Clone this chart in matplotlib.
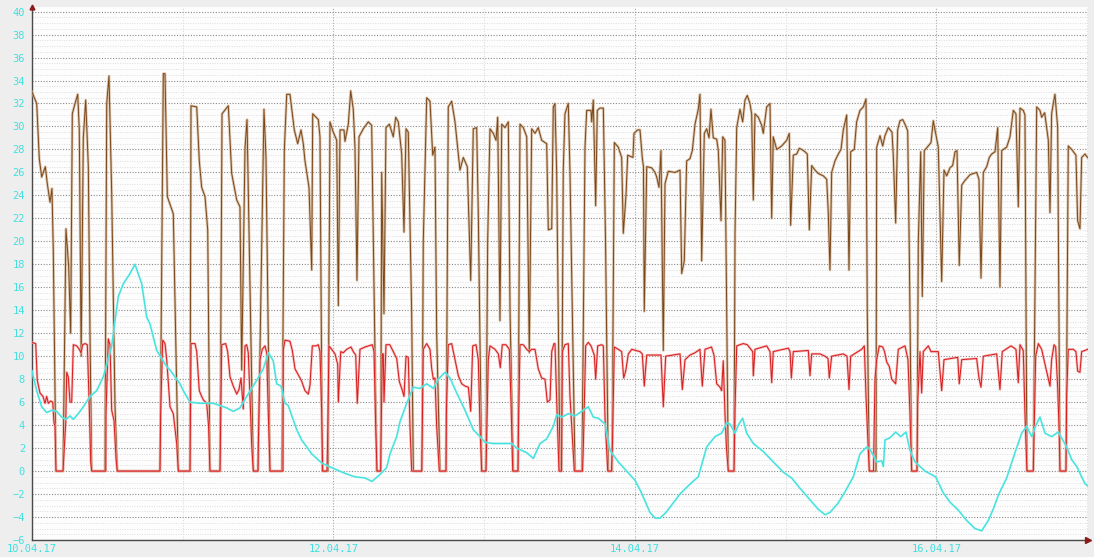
import matplotlib
matplotlib.use("Agg")
import matplotlib.pyplot as plt
from matplotlib.ticker import MultipleLocator, FixedLocator

# hours since 10.04.17 00:00 -> value
flow = [
    (0.00, 33.0), (0.75, 32.0), (1.16, 27.2), (1.54, 25.6), (2.12, 26.5), (2.44, 25.0),
    (2.87, 23.4), (3.18, 24.6), (3.39, 19.2), (3.82, 0.0), (4.94, 0.0), (5.41, 21.1),
    (5.84, 17.8), (6.16, 12.0), (6.42, 31.1), (6.85, 32.0), (7.28, 32.8), (7.53, 29.7),
    (7.83, 10.0), (8.17, 29.0), (8.55, 32.3), (8.97, 26.5), (9.24, 11.7), (9.51, 0.0),
    (11.62, 0.0), (11.90, 32.0), (12.26, 34.4), (12.69, 24.2), (13.22, 5.6), (13.58, 0.0),
    (20.38, 0.0), (20.91, 34.6), (21.18, 34.6), (21.55, 23.9), (22.50, 22.4), (23.30, 0.0),
    (25.16, 0.0), (25.32, 31.8), (26.23, 31.7), (26.64, 27.0), (27.02, 24.7), (27.55, 23.9),
    (27.98, 21.0), (28.34, 0.0), (29.94, 0.0), (30.26, 31.1), (31.26, 31.8), (31.80, 25.9),
    (32.60, 23.6), (33.12, 23.0), (33.39, 8.8), (33.92, 28.1), (34.24, 30.6), (35.24, 0.0),
    (35.99, 0.0), (36.94, 31.5), (37.26, 27.3), (37.90, 0.0), (39.81, 0.0), (40.18, 27.9),
    (40.56, 32.8), (41.08, 32.8), (41.77, 29.7), (42.31, 28.5), (42.84, 29.7), (43.20, 28.5),
    (43.47, 27.0), (44.11, 24.7), (44.54, 17.5), (44.70, 31.1), (45.59, 30.6), (45.86, 29.1),
    (46.23, 0.0), (47.14, 0.0), (47.45, 30.4), (47.98, 29.5), (48.52, 28.8), (48.78, 14.4),
    (49.05, 29.7), (49.68, 29.7), (49.84, 28.7), (50.37, 30.2), (50.75, 33.1), (51.16, 31.5),
    (51.43, 28.2), (51.75, 16.6), (52.07, 29.1), (52.76, 29.8), (53.55, 30.4), (54.09, 30.1),
    (54.89, 0.0), (55.53, 0.0), (55.69, 26.0), (56.05, 13.7), (56.37, 29.9), (56.90, 30.2),
    (57.53, 29.1), (57.92, 30.8), (58.33, 30.4), (58.87, 27.6), (59.24, 20.8), (59.56, 29.8),
    (59.92, 29.5), (60.46, 13.7), (60.72, 0.0), (62.10, 0.0), (62.31, 20.0), (62.85, 32.5),
    (63.38, 32.2), (63.81, 27.5), (64.17, 28.2), (64.44, 12.0), (64.97, 0.0), (65.93, 0.0),
    (66.29, 31.7), (66.83, 32.2), (67.36, 30.4), (68.15, 26.2), (68.68, 27.3), (69.32, 26.5),
    (69.86, 16.6), (70.27, 29.8), (70.81, 29.9), (71.07, 22.4), (71.61, 0.0), (72.29, 0.0),
    (72.56, 20.0), (72.93, 29.8), (73.46, 29.4), (73.89, 28.8), (74.16, 30.8), (74.52, 13.1),
    (74.80, 30.2), (75.32, 29.9), (75.85, 30.4), (76.12, 14.0), (76.64, 0.0), (77.39, 0.0),
    (77.71, 30.2), (78.24, 29.9), (78.78, 29.1), (79.19, 10.3), (79.57, 29.8), (80.10, 29.4),
    (80.62, 29.9), (81.16, 28.8), (81.96, 28.5), (82.22, 21.0), (82.76, 21.1), (83.01, 31.7),
    (83.28, 32.0), (83.55, 26.0), (84.08, 0.0), (84.32, 0.0), (84.60, 26.2), (84.87, 31.1),
    (85.40, 32.0), (85.67, 26.0), (86.47, 0.0), (87.58, 0.0), (88.06, 28.2), (88.33, 31.4),
    (89.02, 31.4), (89.13, 30.4), (89.38, 32.3), (89.76, 23.1), (90.02, 31.4), (90.45, 31.6),
    (90.98, 31.6), (91.33, 20.0), (91.77, 0.0), (92.36, 0.0), (92.73, 28.6), (93.36, 28.2),
    (93.90, 27.3), (94.16, 20.7), (94.59, 24.0), (94.86, 27.5), (95.70, 27.3), (95.86, 29.4),
    (96.45, 29.7), (96.82, 29.7), (97.18, 27.3), (97.37, 26.5), (97.50, 13.9), (97.89, 26.5),
    (98.68, 26.4), (99.21, 26.0), (99.48, 25.6), (99.84, 24.7), (100.16, 27.9), (100.53, 10.5),
    (100.80, 25.0), (101.32, 26.1), (102.39, 26.0), (103.19, 26.2), (103.46, 17.2), (103.87, 18.3),
    (104.25, 27.0), (104.78, 27.2), (105.15, 27.9), (105.58, 30.2), (106.10, 31.5), (106.37, 32.8),
    (106.64, 18.3), (107.06, 29.4), (107.44, 29.8), (107.81, 29.0), (108.12, 31.5), (108.49, 29.0),
    (109.03, 28.9), (109.29, 27.9), (109.72, 21.8), (109.99, 29.1), (110.35, 28.8), (110.88, 0.0),
    (111.79, 0.0), (111.95, 20.7), (112.22, 29.9), (112.74, 31.5), (113.17, 30.4), (113.54, 32.3),
    (113.90, 32.7), (114.33, 32.0), (114.60, 31.1), (114.86, 23.6), (115.13, 31.1), (115.66, 30.8),
    (116.20, 30.1), (116.45, 29.4), (116.99, 31.7), (117.52, 32.0), (117.79, 22.0), (118.04, 29.1),
    (118.59, 28.0), (119.38, 28.3), (120.18, 28.8), (120.59, 29.4), (120.81, 21.4), (121.23, 27.5),
    (121.77, 27.6), (122.19, 28.1), (122.57, 28.0), (123.09, 27.8), (123.46, 27.6), (123.78, 21.0),
    (124.16, 26.6), (124.69, 26.2), (125.21, 25.9), (126.01, 25.7), (126.55, 25.4), (126.80, 22.5),
    (127.07, 17.5), (127.34, 26.0), (127.87, 27.0), (128.40, 27.6), (128.83, 28.0), (129.19, 29.7),
    (129.73, 31.0), (130.10, 17.5), (130.37, 27.8), (130.94, 28.0), (131.32, 30.4), (131.85, 31.4),
    (132.38, 31.7), (132.81, 32.4), (133.01, 14.0), (133.33, 0.0), (134.40, 0.0), (134.51, 28.2),
    (135.04, 29.2), (135.47, 28.3), (135.83, 29.2), (136.36, 29.9), (136.95, 29.5), (137.15, 27.5),
    (137.53, 21.6), (137.85, 29.7), (138.22, 30.5), (138.65, 30.6), (139.02, 30.2), (139.45, 29.6),
    (139.70, 19.2), (140.08, 0.0), (140.93, 0.0), (141.14, 20.0), (141.52, 27.8), (141.77, 15.2),
    (142.09, 27.9), (142.57, 28.2), (143.16, 28.6), (143.52, 30.5), (143.90, 29.4), (144.32, 28.2),
    (144.86, 16.5), (145.23, 26.2), (145.66, 25.7), (146.18, 26.4), (146.61, 26.6), (146.98, 27.8),
    (147.30, 27.9), (147.66, 17.9), (148.05, 24.9), (148.57, 25.3), (149.37, 25.8), (150.43, 26.0),
    (150.80, 25.4), (151.12, 16.8), (151.49, 26.0), (152.03, 26.5), (152.44, 27.3), (152.82, 27.6),
    (153.35, 27.8), (153.78, 29.9), (154.14, 16.0), (154.42, 27.9), (155.21, 28.2), (155.74, 29.1),
    (156.26, 31.4), (156.69, 31.1), (157.06, 23.0), (157.33, 31.6), (157.85, 31.4), (158.12, 31.0),
    (158.44, 0.0), (159.45, 0.0), (159.80, 20.0), (159.99, 31.7), (160.51, 31.4), (160.78, 30.8),
    (161.26, 31.2), (161.84, 28.8), (162.11, 22.5), (162.37, 31.1), (162.63, 32.0), (162.90, 32.8),
    (163.33, 29.9), (163.70, 0.0), (164.65, 0.0), (165.02, 28.3), (165.56, 28.0), (166.24, 27.5),
    (166.51, 21.8), (166.88, 21.1), (167.15, 27.3), (167.68, 27.6), (168.08, 27.3),
]

burner = [
    (0.00, 11.2), (0.59, 11.1), (0.84, 7.9), (1.27, 6.8), (1.75, 6.5), (2.07, 5.9), (2.34, 6.5),
    (2.60, 5.9), (2.98, 6.1), (3.30, 6.0), (3.50, 4.2), (3.66, 3.9), (3.82, 0.0), (4.94, 0.0),
    (5.37, 4.2), (5.53, 8.6), (5.78, 8.2), (6.05, 6.0), (6.32, 6.0), (6.58, 11.0), (7.12, 10.9),
    (7.53, 10.6), (7.80, 10.3), (8.07, 11.0), (8.44, 11.1), (8.81, 11.0), (9.12, 5.6), (9.35, 0.8),
    (9.51, 0.0), (11.75, 0.0), (11.78, 5.0), (12.15, 11.5), (12.42, 11.0), (12.69, 5.3),
    (13.06, 4.4), (13.38, 1.1), (13.58, 0.0), (20.38, 0.0), (20.49, 5.0), (20.81, 11.4),
    (21.18, 11.1), (21.45, 9.7), (21.98, 5.6), (22.50, 5.0), (23.04, 2.4), (23.30, 0.0),
    (25.16, 0.0), (25.32, 11.1), (25.96, 11.1), (26.23, 10.4), (26.64, 7.0), (27.02, 6.5),
    (27.28, 6.2), (27.82, 5.9), (28.11, 4.0), (28.34, 0.0), (29.94, 0.0), (30.21, 11.0),
    (30.84, 11.1), (31.16, 10.4), (31.53, 8.2), (32.05, 7.4), (32.60, 6.7), (32.96, 7.1),
    (33.28, 8.1), (33.65, 5.4), (33.92, 10.9), (34.19, 11.0), (34.44, 10.3), (34.71, 6.5),
    (34.98, 2.3), (35.24, 0.0), (35.99, 0.0), (36.04, 2.3), (36.31, 9.7), (36.67, 10.6),
    (37.10, 10.9), (37.37, 10.3), (37.63, 5.0), (37.90, 0.0), (39.97, 0.0), (40.02, 10.6),
    (40.29, 11.4), (41.08, 11.3), (41.45, 10.5), (41.88, 8.9), (42.68, 8.1), (42.95, 7.8),
    (43.47, 7.0), (44.00, 6.7), (44.27, 7.5), (44.64, 10.9), (45.22, 10.9), (45.59, 11.0),
    (45.86, 10.4), (46.13, 5.1), (46.29, 0.0), (46.98, 0.0), (47.06, 2.3), (47.29, 10.9),
    (47.72, 10.6), (48.25, 10.2), (48.68, 9.3), (48.78, 6.0), (49.16, 10.4), (49.57, 10.3),
    (50.11, 10.6), (50.80, 10.8), (51.16, 10.4), (51.55, 10.1), (51.80, 5.9), (52.23, 10.6),
    (53.03, 10.8), (54.19, 11.0), (54.46, 10.4), (54.73, 3.9), (54.94, 0.0), (55.53, 0.0),
    (55.58, 2.5), (55.78, 10.2), (55.94, 10.2), (56.05, 6.0), (56.37, 11.0), (56.98, 11.0),
    (57.53, 10.4), (58.08, 9.8), (58.49, 7.8), (58.87, 7.2), (59.24, 6.5), (59.56, 10.0),
    (59.92, 9.9), (60.19, 3.9), (60.46, 0.0), (62.06, 0.0), (62.31, 10.6), (62.85, 11.1),
    (63.38, 10.6), (63.65, 8.9), (63.91, 8.0), (64.17, 8.1), (64.44, 3.9), (64.86, 0.0),
    (65.93, 0.0), (65.98, 5.0), (66.29, 11.0), (66.83, 11.1), (67.36, 9.7), (67.89, 8.3),
    (68.43, 7.6), (68.95, 7.4), (69.48, 7.3), (69.86, 5.2), (70.18, 10.9), (70.71, 11.0),
    (71.07, 9.7), (71.34, 3.9), (71.61, 0.0), (72.29, 0.0), (72.66, 9.7), (72.93, 10.9),
    (73.73, 10.6), (74.26, 10.2), (74.57, 9.0), (74.89, 11.0), (75.48, 11.0), (76.01, 10.6),
    (76.28, 6.0), (76.55, 0.0), (77.39, 0.0), (77.47, 4.0), (77.71, 11.0), (78.24, 11.0),
    (78.78, 10.6), (79.19, 10.4), (79.57, 10.6), (80.10, 10.6), (80.62, 8.9), (81.16, 8.1),
    (81.69, 8.0), (82.06, 6.0), (82.49, 6.2), (82.76, 10.4), (83.12, 11.1), (83.28, 11.1),
    (83.55, 6.2), (83.92, 0.0), (84.32, 0.0), (84.45, 10.4), (84.87, 11.0), (85.40, 11.1),
    (85.67, 6.5), (85.94, 3.9), (86.36, 0.0), (87.66, 0.0), (87.79, 2.0), (88.17, 10.9),
    (88.59, 11.2), (89.02, 10.9), (89.54, 10.1), (89.76, 8.0), (90.08, 10.9), (90.72, 11.0),
    (90.98, 10.9), (91.25, 4.6), (91.68, 0.0), (92.28, 0.0), (92.44, 2.5), (92.73, 10.8),
    (93.36, 10.6), (93.90, 10.4), (94.22, 8.1), (94.54, 8.7), (94.96, 10.2), (95.50, 10.6),
    (96.82, 10.4), (97.18, 10.2), (97.50, 7.4), (97.89, 10.1), (100.16, 10.1), (100.53, 5.6),
    (100.91, 10.0), (103.19, 10.2), (103.56, 7.1), (103.99, 9.7), (104.78, 10.1), (105.58, 10.3),
    (106.37, 10.6), (106.74, 7.4), (107.17, 10.6), (108.21, 10.8), (108.60, 10.1), (109.03, 7.6),
    (109.56, 7.3), (109.82, 7.0), (110.08, 9.6), (110.35, 5.0), (110.59, 2.0), (110.88, 0.0),
    (111.79, 0.0), (111.95, 5.3), (112.22, 10.9), (113.27, 11.1), (113.90, 11.0), (114.77, 10.4),
    (114.86, 8.3), (115.13, 10.6), (116.99, 10.9), (117.52, 10.4), (117.79, 7.7), (118.04, 10.4),
    (120.44, 10.7), (120.71, 10.4), (120.92, 8.1), (121.23, 10.4), (123.62, 10.5), (123.89, 8.3),
    (124.16, 10.2), (125.48, 10.2), (126.28, 10.0), (126.76, 9.8), (126.96, 8.1), (127.34, 10.0),
    (129.19, 10.2), (129.78, 10.0), (130.10, 7.1), (130.37, 10.0), (132.12, 10.6), (132.54, 10.9),
    (132.81, 6.5), (133.01, 3.9), (133.33, 0.0), (134.00, 0.0), (134.24, 8.0), (134.51, 9.7),
    (134.93, 10.9), (135.47, 10.8), (135.76, 10.4), (136.10, 9.5), (136.52, 9.1), (136.90, 8.0),
    (137.53, 7.6), (137.95, 10.6), (139.02, 10.9), (139.49, 9.7), (139.81, 5.0), (140.08, 0.0),
    (140.93, 0.0), (141.04, 6.0), (141.41, 10.4), (141.67, 6.8), (141.93, 10.4), (142.73, 10.9),
    (143.16, 10.4), (144.32, 10.4), (144.86, 7.0), (145.23, 9.7), (147.42, 9.9), (147.66, 7.6),
    (148.05, 9.7), (150.43, 9.8), (150.80, 8.1), (151.12, 7.3), (151.49, 10.0), (153.62, 10.2),
    (154.14, 7.1), (154.51, 10.4), (155.90, 10.9), (156.69, 10.6), (157.06, 7.7), (157.33, 11.0),
    (157.85, 10.5), (158.12, 5.0), (158.44, 0.0), (159.45, 0.0), (159.83, 10.0), (160.25, 11.1),
    (160.78, 10.6), (161.31, 9.3), (161.74, 8.3), (162.11, 7.4), (162.37, 9.7), (162.75, 11.0),
    (163.01, 10.8), (163.33, 7.3), (163.54, 3.9), (163.70, 0.0), (164.65, 0.0), (164.76, 6.5),
    (165.02, 10.6), (165.82, 10.6), (166.24, 10.4), (166.51, 8.7), (166.88, 8.6), (167.15, 10.4),
    (167.68, 10.5), (168.08, 10.6),
]

outside = [
    (0.00, 8.7), (0.75, 7.0), (1.54, 5.6), (2.34, 5.1), (3.18, 5.3), (3.93, 5.2), (4.73, 4.7),
    (5.41, 4.5), (6.05, 4.8), (6.58, 4.5), (7.37, 5.0), (8.17, 5.6), (9.24, 6.5), (10.30, 7.0),
    (11.35, 8.2), (12.69, 10.9), (13.74, 15.2), (14.54, 16.3), (15.61, 17.2), (16.40, 18.0),
    (17.47, 16.3), (18.26, 13.4), (18.79, 12.8), (19.86, 10.5), (21.45, 9.1), (21.98, 8.8),
    (23.57, 7.6), (24.09, 7.0), (25.16, 6.0), (26.75, 5.9), (28.87, 5.9), (31.00, 5.5),
    (32.05, 5.2), (33.12, 5.5), (34.19, 6.5), (35.78, 7.9), (36.83, 8.9), (37.63, 10.3),
    (38.42, 9.6), (38.96, 7.6), (39.65, 7.4), (40.29, 5.9), (40.81, 5.7), (42.15, 3.6),
    (42.95, 2.7), (44.54, 1.5), (46.13, 0.7), (47.72, 0.3), (49.84, -0.2), (51.43, -0.5),
    (53.03, -0.6), (54.14, -0.9), (55.41, -0.3), (56.48, 0.3), (57.01, 1.5), (58.08, 3.0),
    (58.60, 4.3), (59.67, 5.9), (60.72, 7.3), (61.79, 7.2), (62.85, 7.6), (63.91, 7.2),
    (64.70, 8.0), (65.77, 8.6), (66.56, 8.1), (67.63, 6.8), (68.95, 5.3), (70.27, 3.6),
    (71.34, 3.0), (72.14, 2.5), (73.46, 2.4), (75.05, 2.4), (76.39, 2.4), (77.18, 2.0),
    (78.78, 1.6), (79.83, 1.1), (80.90, 2.4), (81.96, 2.8), (83.01, 3.9), (83.55, 4.9),
    (84.40, 4.7), (85.40, 5.0), (86.47, 4.8), (87.53, 5.2), (88.59, 5.6), (89.38, 4.7),
    (90.18, 4.6), (91.25, 4.1), (92.04, 1.8), (93.36, 0.8), (94.70, 0.0), (96.02, -0.8),
    (96.97, -1.8), (97.77, -2.8), (98.41, -3.6), (99.21, -4.1), (100.00, -4.1), (100.96, -3.6),
    (102.07, -2.8), (103.19, -2.0), (104.47, -1.3), (105.26, -0.9), (106.10, -0.5), (107.44, 2.1),
    (108.76, 3.0), (109.82, 3.3), (110.62, 4.2), (111.15, 4.1), (111.95, 3.3), (112.47, 4.0),
    (113.17, 4.6), (113.81, 3.3), (114.86, 2.4), (116.45, 1.7), (118.04, 0.8), (119.64, -0.1),
    (120.97, -0.6), (122.30, -1.5), (123.89, -2.5), (125.16, -3.3), (126.28, -3.8), (127.07, -3.6),
    (128.35, -2.8), (129.47, -1.8), (130.78, -0.5), (131.85, 1.5), (132.92, 2.1), (133.45, 1.9),
    (134.51, 0.8), (135.31, 0.9), (135.57, 0.4), (135.83, 2.7), (136.63, 2.9), (137.53, 3.4),
    (138.33, 3.0), (139.18, 3.4), (139.81, 1.8), (140.61, 0.8), (142.20, 0.0), (143.90, -0.5),
    (145.12, -1.9), (146.18, -2.7), (147.50, -3.4), (148.84, -4.3), (150.16, -5.0), (151.23, -5.2),
    (152.28, -4.3), (153.08, -3.3), (153.88, -2.1), (155.21, -0.6), (156.53, 1.6), (157.60, 3.3),
    (158.39, 3.9), (159.19, 3.0), (159.87, 4.0), (160.51, 4.7), (161.31, 3.3), (162.37, 3.0),
    (163.43, 3.4), (164.76, 2.1), (165.56, 1.0), (166.36, 0.4), (167.68, -1.1), (168.15, -1.3),
]

date_ticks = [0, 48, 96, 144]
date_labels = ["10.04.17", "12.04.17", "14.04.17", "16.04.17"]

W, H = 1094, 557
fig = plt.figure(figsize=(W / 100, H / 100), dpi=100, facecolor="#eeeeee")
ax = fig.add_axes([32 / W, 17 / H, 1056 / W, 533 / H])
ax.set_facecolor("#fdfdfd")


def draw(ax, series, halo, core, halo_lw, core_lw, z, halo_alpha=0.75):
    t, v = zip(*series)
    ax.plot(t, v, color=halo, lw=halo_lw, alpha=halo_alpha, zorder=z)
    ax.plot(t, v, color=core, lw=core_lw, zorder=z + 0.5)


draw(ax, flow, "#cfb091", "#7a4719", 1.9, 0.7, 3)
draw(ax, burner, "#f4a8a8", "#d92020", 1.8, 0.75, 4)
draw(ax, outside, "#a6f2ef", "#42e2de", 1.6, 1.0, 5, halo_alpha=0.6)

ax.set_xlim(0, 168.16)
ax.set_ylim(-6, 40.4)

ax.yaxis.set_major_locator(MultipleLocator(2))
ax.yaxis.set_minor_locator(MultipleLocator(0.5))
ax.xaxis.set_major_locator(FixedLocator(date_ticks))
ax.xaxis.set_minor_locator(MultipleLocator(24))
ax.set_xticklabels(date_labels)

dots = (0, (1, 1.5))
ax.grid(which="major", axis="y", color="#8a8a8a", linestyle=dots, lw=0.8)
ax.grid(which="minor", axis="y", color="#dedede", linestyle=dots, lw=0.7)
ax.grid(which="major", axis="x", color="#a8a8a8", linestyle=dots, lw=0.8)
ax.grid(which="minor", axis="x", color="#dadada", linestyle=dots, lw=0.8)
ax.set_axisbelow(True)

for side in ("top", "right"):
    ax.spines[side].set_visible(False)
for side in ("left", "bottom"):
    ax.spines[side].set_color("#4a4a4a")
    ax.spines[side].set_linewidth(1.0)

ax.tick_params(which="both", length=0, colors="#40e0e0", labelsize=7.5)
ax.tick_params(axis="y", pad=5)
ax.tick_params(axis="x", pad=3)
for lbl in ax.get_xticklabels() + ax.get_yticklabels():
    lbl.set_family("DejaVu Sans Mono")

# axis arrow heads
ax.plot(1.0, 0.0, ">", transform=ax.transAxes, clip_on=False, color="#8b1a1a", ms=4, zorder=6)
ax.plot(0.0, 1.0, "^", transform=ax.transAxes, clip_on=False, color="#8b1a1a", ms=3.5, zorder=6)

fig.savefig("out.png", dpi=100, facecolor=fig.get_facecolor())
